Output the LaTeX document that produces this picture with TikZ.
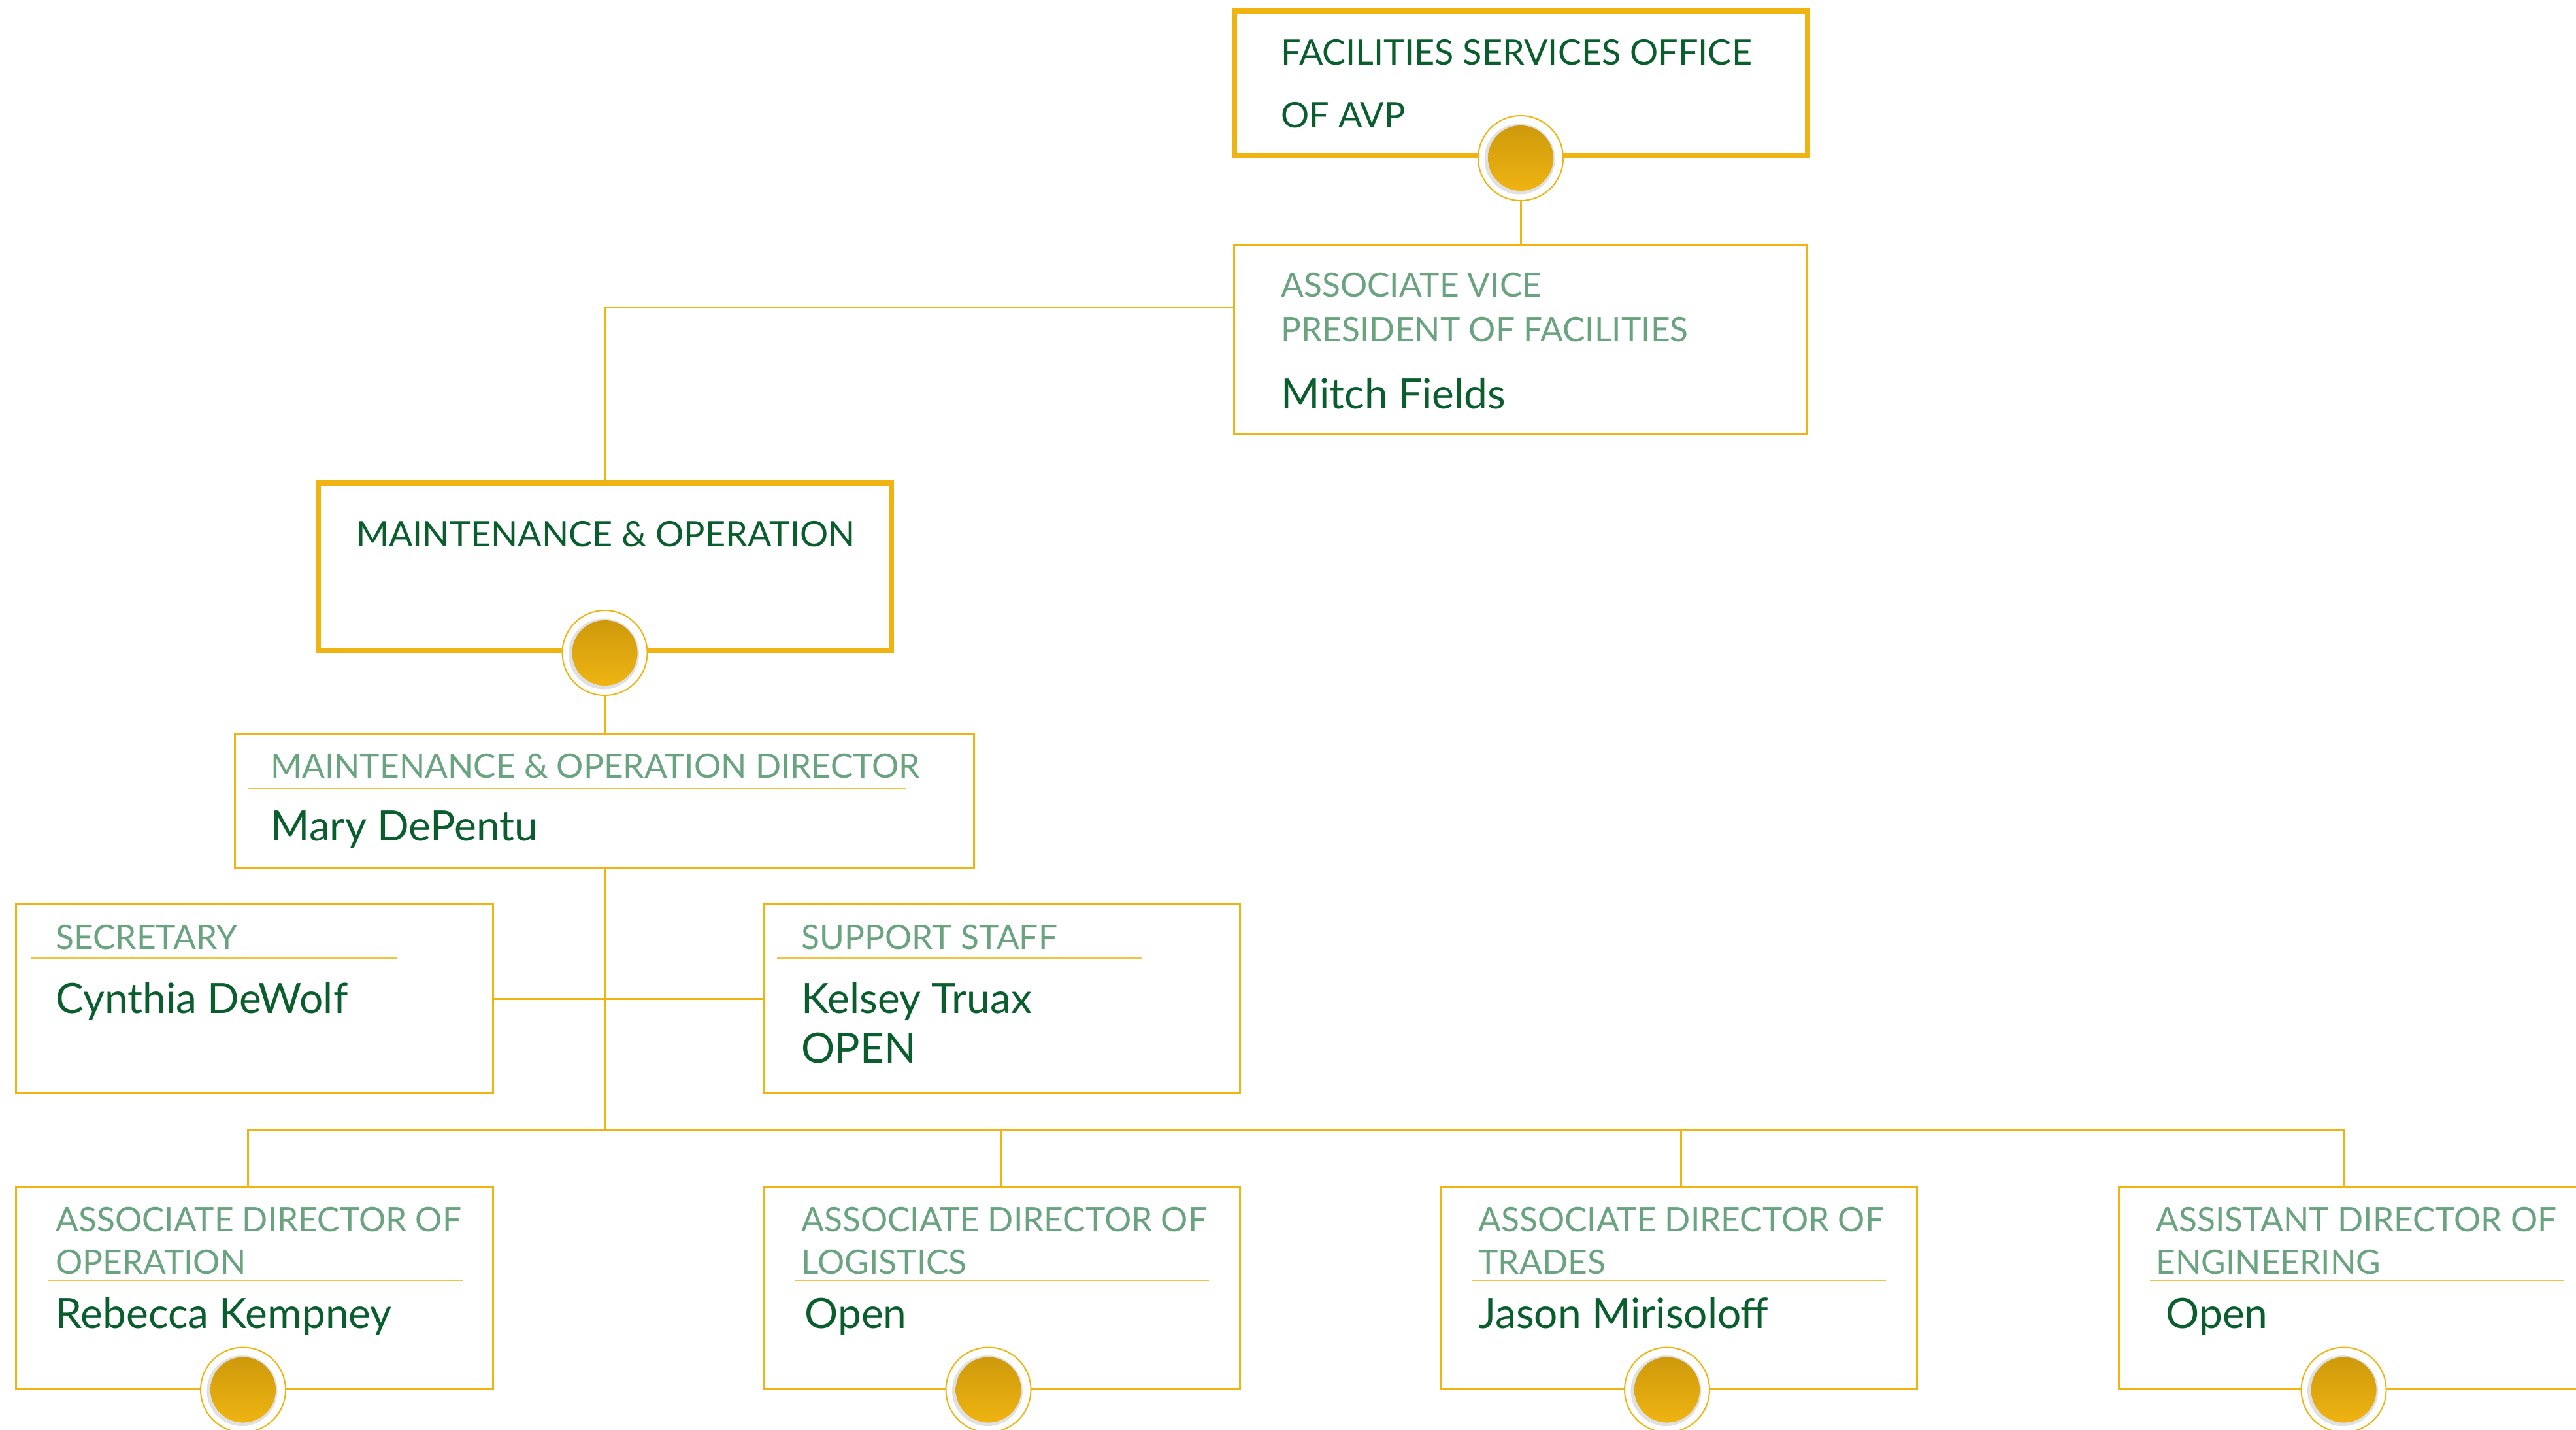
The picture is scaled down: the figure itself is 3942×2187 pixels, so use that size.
\documentclass[tikz,border=0pt]{standalone}
\usepackage{fontspec}
\setmainfont{Lato}
\usepackage{tikz}

\definecolor{gold}{RGB}{239,180,18}
\definecolor{golddark}{RGB}{206,154,12}
\definecolor{deepgreen}{RGB}{10,94,45}
\definecolor{palegreen}{RGB}{106,163,127}

\begin{document}
\begin{tikzpicture}[x=0.2pt,y=-0.2pt,
  link/.style={draw=gold, line width=0.6pt},
  rule/.style={draw=gold!80, line width=0.4pt},
  unitbox/.style={draw=gold, line width=0.6pt, fill=white, inner sep=0pt, minimum width=145.8pt, minimum height=57.8pt},
  headbox/.style={draw=gold, line width=1.6pt, fill=white, inner sep=0pt, minimum width=175.4pt},
  dot/.style={circle, draw=gold, line width=0.4pt, fill=white, inner sep=0pt, minimum size=26pt,
    path picture={\fill[black!12] ([shift={(-0.3pt,-0.3pt)}]path picture bounding box.center) circle (10.8pt);
      \shade[top color=golddark, middle color=gold, bottom color=gold] (path picture bounding box.center) circle (10pt);}},
  headtxt/.style={anchor=base west, inner sep=0pt, yshift=-1pt, text=deepgreen, font=\fontsize{10.8pt}{13pt}\selectfont},
  roletxt/.style={anchor=base west, inner sep=0pt, yshift=-0.8pt, text=palegreen, font=\fontsize{10.3pt}{13pt}\selectfont},
  nametxt/.style={anchor=base west, inner sep=0pt, yshift=-1pt, text=deepgreen, font=\fontsize{12.8pt}{15pt}\selectfont}]
\useasboundingbox (0,0) rectangle (3942,2187);

%Shape: Rectangle
\node [headbox, minimum height=44.2pt] (fso) at (2327,127.5) {};
\node [unitbox, minimum width=175.4pt] (avp) at (2326.5,518.5) {};
\node [headbox, minimum height=51.2pt] (mo) at (925.5,867) {};
\node [unitbox, minimum width=226pt, minimum height=41pt] (mod) at (925,1224.5) {};
\node [unitbox] (sec) at (389.5,1528) {};
\node [unitbox] (sup) at (1532.5,1528) {};
\node [unitbox, minimum height=62pt] (adop) at (389.5,1970) {};
\node [unitbox, minimum height=62pt] (adlog) at (1532.5,1970) {};
\node [unitbox, minimum height=62pt] (adtr) at (2568.5,1970) {};
\node [unitbox, minimum height=62pt] (aseng) at (3606.5,1970) {};
\coordinate (bus) at (922,1729);

%Straight Lines
\draw [link] (fso.south) -- (avp.north -| fso.south);
\draw [link] ([yshift=9.6pt]avp.west) -| (mo.north);
\draw [link] (mo.south) -- (mod.north -| mo.south);
\draw [link] (mod.south) -- (mod.south |- bus);
\draw [link] (sec.east) -- (sup.west);
\draw [link] ([xshift=-2pt]adop.north) |- ([xshift=-4pt]aseng.north |- bus) -- ([xshift=-4pt]aseng.north);
\draw [link] (adlog.north) -- (adlog.north |- bus);
\draw [link] ([xshift=0.8pt]adtr.north) -- ([xshift=0.8pt]adtr.north |- bus);

% redraw boxes over the lines
\node [headbox, minimum height=44.2pt] at (fso) {};
\node [unitbox, minimum width=175.4pt] at (avp) {};
\node [headbox, minimum height=51.2pt] at (mo) {};
\node [unitbox, minimum width=226pt, minimum height=41pt] at (mod) {};
\node [unitbox] at (sec) {};
\node [unitbox] at (sup) {};
\node [unitbox, minimum height=62pt] at (adop) {};
\node [unitbox, minimum height=62pt] at (adlog) {};
\node [unitbox, minimum height=62pt] at (adtr) {};
\node [unitbox, minimum height=62pt] at (aseng) {};

%Straight Lines: separators
\draw [rule] ([shift={(22,85)}]mod.north west) -- ++(1006,0);
\draw [rule] ([shift={(24,84)}]sec.north west) -- ++(559,0);
\draw [rule] ([shift={(22,84)}]sup.north west) -- ++(559,0);
\draw [rule] ([shift={(51,145)}]adop.north west) -- ++(634,0);
\draw [rule] ([shift={(49,145)}]adlog.north west) -- ++(634,0);
\draw [rule] ([shift={(49,145)}]adtr.north west) -- ++(634,0);
\draw [rule] ([shift={(49,145)}]aseng.north west) -- ++(634,0);

%Shape: Circle
\node [dot] (fsodot) at (fso.south) {};
\node [dot] (modot) at (mo.south) {};
\node [dot] (adopdot) at ([xshift=-3.5pt]adop.south) {};
\node [dot] (adlogdot) at ([xshift=-4pt]adlog.south) {};
\node [dot] (adtrdot) at ([xshift=-3.5pt]adtr.south) {};
\node [dot] (asengdot) at ([xshift=-4pt]aseng.south) {};

% Text Node
\node [headtxt] (fsot1) at ([shift={(75,81)}]fso.north west) {FACILITIES SERVICES OFFICE};
\node [headtxt] (fsot2) at ([shift={(75,177)}]fso.north west) {OF AVP};
% Text Node
\node [roletxt] (avpt1) at ([shift={(73,78)}]avp.north west) {ASSOCIATE VICE};
\node [roletxt] (avpt2) at ([shift={(73,146)}]avp.north west) {PRESIDENT OF FACILITIES};
\node [nametxt] (avpn) at ([shift={(73,248)}]avp.north west) {Mitch Fields};
% Text Node
\node [headtxt] (mot) at ([shift={(61,96)}]mo.north west) {MAINTENANCE \& OPERATION};
% Text Node
\node [roletxt] (modt) at ([shift={(55,66)}]mod.north west) {MAINTENANCE \& OPERATION DIRECTOR};
\node [nametxt] (modn) at ([shift={(55,161)}]mod.north west) {Mary DePentu};
% Text Node
\node [roletxt] (sect) at ([shift={(61,66)}]sec.north west) {SECRETARY};
\node [nametxt] (secn) at ([shift={(61,163)}]sec.north west) {Cynthia DeWolf};
% Text Node
\node [roletxt] (supt) at ([shift={(59,66)}]sup.north west) {SUPPORT STAFF};
\node [nametxt] (supn1) at ([shift={(59,163)}]sup.north west) {Kelsey Truax};
\node [nametxt] (supn2) at ([shift={(59,239)}]sup.north west) {OPEN};
% Text Node
\node [roletxt] (adopt1) at ([shift={(61,67)}]adop.north west) {ASSOCIATE DIRECTOR OF};
\node [roletxt] (adopt2) at ([shift={(61,132)}]adop.north west) {OPERATION};
\node [nametxt] (adopn) at ([shift={(61,214)}]adop.north west) {Rebecca Kempney};
% Text Node
\node [roletxt] (adlogt1) at ([shift={(59,67)}]adlog.north west) {ASSOCIATE DIRECTOR OF};
\node [roletxt] (adlogt2) at ([shift={(59,132)}]adlog.north west) {LOGISTICS};
\node [nametxt] (adlogn) at ([shift={(64,214)}]adlog.north west) {Open};
% Text Node
\node [roletxt] (adtrt1) at ([shift={(59,67)}]adtr.north west) {ASSOCIATE DIRECTOR OF};
\node [roletxt] (adtrt2) at ([shift={(59,132)}]adtr.north west) {TRADES};
\node [nametxt] (adtrn) at ([shift={(59,214)}]adtr.north west) {Jason Mirisoloff};
% Text Node
\node [roletxt] (asengt1) at ([shift={(58,67)}]aseng.north west) {ASSISTANT DIRECTOR OF};
\node [roletxt] (asengt2) at ([shift={(58,132)}]aseng.north west) {ENGINEERING};
\node [nametxt] (asengn) at ([shift={(73,214)}]aseng.north west) {Open};

\end{tikzpicture}
\end{document}
